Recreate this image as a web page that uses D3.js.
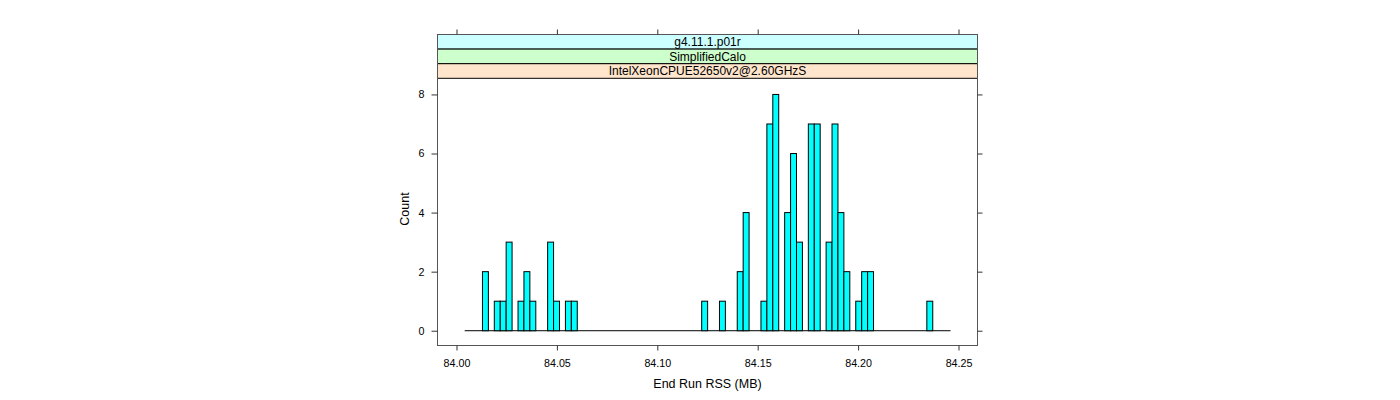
<!DOCTYPE html>
<html><head><meta charset="utf-8">
<script src="https://cdn.jsdelivr.net/npm/d3@7"></script>
<style>
body{margin:0;background:#fff}
svg{display:block}
text{font-family:"Liberation Sans",Arial,Helvetica,sans-serif;fill:#000}
</style>
</head><body><svg id="c" width="1400" height="400"></svg>
<script>
// ---- data ----
const stripLabels = ["g4.11.1.p01r", "SimplifiedCalo", "IntelXeonCPUE52650v2@2.60GHzS"];
const stripColors = ["#ccffff", "#ccffcc", "#ffe5cc"];
const binLefts = [84.01293, 84.01883, 84.02178, 84.02473, 84.03064, 84.03359, 84.03654,
  84.04539, 84.04834, 84.05424, 84.05719, 84.12211, 84.13096, 84.13981, 84.14276,
  84.15162, 84.15457, 84.15752, 84.16342, 84.16637, 84.16932, 84.17522, 84.17817,
  84.18407, 84.18702, 84.18997, 84.19292, 84.19883, 84.20178, 84.20473, 84.23423];
const counts = [2, 1, 1, 3, 1, 2, 1,
  3, 1, 1, 1, 1, 1, 2, 4,
  1, 7, 8, 4, 6, 3, 7, 7,
  3, 7, 4, 2, 1, 2, 2, 1];
const binWidth = 0.00295;
const breakRange = [84.00408, 84.24604];
const xTicks = [84.00, 84.05, 84.10, 84.15, 84.20, 84.25];
const yTicks = [0, 2, 4, 6, 8];
const xLimits = [83.99054, 84.25946];
const yLimits = [-0.5, 8.54];
const xTitle = "End Run RSS (MB)";
const yTitle = "Count";

// ---- layout ----
const L = 437.5, R = 977.5, stripTop = 34.5, stripH = 14.6, T = 78.5, B = 345.5;
const svg = d3.select("#c");
const x = d3.scaleLinear().domain(xLimits).range([L, R]);
const y = d3.scaleLinear().domain(yLimits).range([B, T]);
const fmt = d3.format(".2f");

// baseline
svg.append("line")
  .attr("x1", x(breakRange[0])).attr("x2", x(breakRange[1]))
  .attr("y1", y(0)).attr("y2", y(0))
  .attr("stroke", "#000").attr("stroke-width", 1);

// bars
svg.append("g").selectAll("rect").data(binLefts).join("rect")
  .attr("x", d => x(d))
  .attr("width", d => x(d + binWidth) - x(d))
  .attr("y", (d, i) => y(counts[i]))
  .attr("height", (d, i) => y(0) - y(counts[i]))
  .attr("fill", "#00ffff")
  .attr("stroke", "#000")
  .attr("stroke-width", 1);

// strips
stripLabels.forEach((lab, i) => {
  const y0 = stripTop + i * stripH;
  svg.append("rect").attr("x", L).attr("y", y0).attr("width", R - L).attr("height", stripH)
    .attr("fill", stripColors[i]).attr("stroke", "#000").attr("stroke-width", 1);
  svg.append("text").attr("x", (L + R) / 2).attr("y", y0 + stripH / 2)
    .attr("dy", "0.36em").attr("text-anchor", "middle").attr("font-size", "12px").text(lab);
});

// panel border
svg.append("rect").attr("x", L).attr("y", stripTop).attr("width", R - L).attr("height", B - stripTop)
  .attr("fill", "none").attr("stroke", "#555").attr("stroke-width", 1);

// axes
function styleAxis(g) {
  g.select(".domain").remove();
  g.selectAll(".tick line").attr("stroke", "#333");
  g.selectAll("text").attr("font-family", "Liberation Sans, Arial, sans-serif")
    .attr("font-size", "10.7px").attr("fill", "#000");
}
svg.append("g").attr("transform", `translate(0,${B})`)
  .call(d3.axisBottom(x).tickValues(xTicks).tickFormat(fmt).tickSize(5).tickPadding(9).tickSizeOuter(0))
  .call(styleAxis);
svg.append("g").attr("transform", `translate(0,${stripTop})`)
  .call(d3.axisTop(x).tickValues(xTicks).tickFormat("").tickSize(5).tickSizeOuter(0))
  .call(styleAxis);
svg.append("g").attr("transform", `translate(${L},0)`)
  .call(d3.axisLeft(y).tickValues(yTicks).tickFormat(d3.format("d")).tickSize(6).tickPadding(7).tickSizeOuter(0))
  .call(styleAxis);
svg.append("g").attr("transform", `translate(${R},0)`)
  .call(d3.axisRight(y).tickValues(yTicks).tickFormat("").tickSize(5).tickSizeOuter(0))
  .call(styleAxis);

// titles
svg.append("text").attr("x", (L + R) / 2).attr("y", 388).attr("text-anchor", "middle")
  .attr("font-size", "12.5px").text(xTitle);
svg.append("text").attr("transform", `translate(409,209) rotate(-90)`)
  .attr("text-anchor", "middle").attr("font-size", "12.5px").text(yTitle);
</script>
</body></html>
